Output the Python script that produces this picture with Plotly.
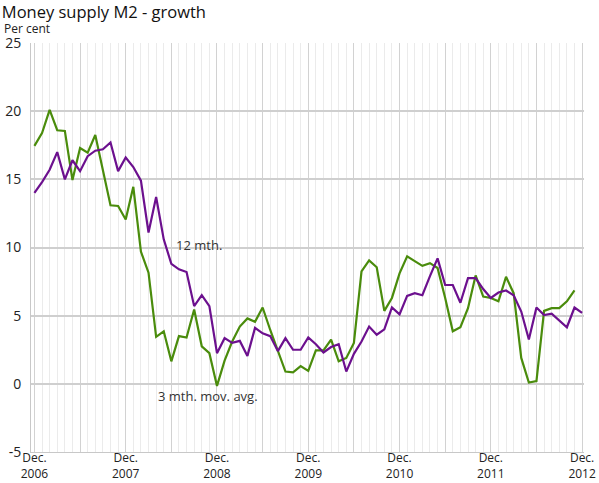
import plotly.graph_objects as go

# months since Dec. 2006
months_12 = list(range(73))
months_3 = list(range(72))

# 12-month growth, per cent
growth_12mth = [
    14.0, 14.8, 15.7, 17.0, 15.0, 16.4, 15.6, 16.7, 17.1, 17.2, 17.7, 15.6, 16.6,
    15.9, 14.9, 11.1, 13.7, 10.6, 8.8, 8.4, 8.2, 5.7, 6.5, 5.7, 2.25, 3.35,
    3.0, 3.15, 2.05, 4.1, 3.7, 3.5, 2.4, 3.35, 2.5, 2.5, 3.4, 2.9, 2.3,
    2.7, 2.9, 0.9, 2.2, 3.1, 4.2, 3.6, 4.0, 5.6, 5.1, 6.45, 6.65, 6.5,
    7.9, 9.2, 7.25, 7.25, 5.95, 7.75, 7.75, 6.95, 6.3, 6.7, 6.85, 6.5, 5.3,
    3.25, 5.6, 5.05, 5.15, 4.65, 4.15, 5.6, 5.2,
]

# 3-month moving average, annualised, per cent
growth_3mth = [
    17.45, 18.4, 20.1, 18.6, 18.55, 14.95, 17.3, 16.95, 18.25, 15.6, 13.1, 13.05,
    12.05, 14.45, 9.7, 8.15, 3.45, 3.85, 1.65, 3.5, 3.4, 5.45, 2.75, 2.25,
    -0.15, 1.7, 3.1, 4.2, 4.8, 4.55, 5.6, 3.95, 2.35, 0.9, 0.85, 1.3,
    0.95, 2.45, 2.45, 3.25, 1.65, 1.9, 3.0, 8.25, 9.05, 8.55, 5.35, 6.3,
    8.1, 9.35, 9.0, 8.65, 8.85, 8.5, 6.3, 3.85, 4.15, 5.55, 7.95, 6.4,
    6.3, 6.05, 7.85, 6.65, 1.9, 0.1, 0.2, 5.35, 5.55, 5.55, 6.05, 6.85,
]

tick_months = list(range(0, 73, 6))
tick_labels = ["Dec.<br>2006", "", "Dec.<br>2007", "", "Dec.<br>2008", "", "Dec.<br>2009",
               "", "Dec.<br>2010", "", "Dec.<br>2011", "", "Dec.<br>2012"]
y_ticks = [-5, 0, 5, 10, 15, 20, 25]
y_labels = ["-5", "0", "5", "10", "15", "20", "25"]

fig = go.Figure()

fig.add_trace(go.Scatter(
    x=months_3, y=growth_3mth, mode="lines", name="3 mth. mov. avg.",
    line=dict(color="#4a8c0c", width=2.2),
))
fig.add_trace(go.Scatter(
    x=months_12, y=growth_12mth, mode="lines", name="12 mth.",
    line=dict(color="#6c108e", width=2.2),
))

fig.add_annotation(x=21.6, y=10.2, text="12 mth.", showarrow=False,
                   xanchor="center", font=dict(size=13, color="#333333"))
fig.add_annotation(x=22.8, y=-0.9, text="3 mth. mov. avg.", showarrow=False,
                   xanchor="center", font=dict(size=13, color="#333333"))

fig.update_layout(
    width=599, height=483,
    margin=dict(l=31, r=15, t=43, b=31, autoexpand=False),
    plot_bgcolor="white", paper_bgcolor="white",
    showlegend=False,
    font=dict(family="Open Sans", size=13, color="#222222"),
    title=dict(text="Money supply M2 - growth", x=0.003, xanchor="left",
               y=0.986, yanchor="top", font=dict(size=16.5, color="#111111")),
)
fig.add_annotation(xref="paper", yref="paper", x=-0.052, y=1.035, xanchor="left",
                   yanchor="middle", text="Per cent", showarrow=False,
                   font=dict(size=12, color="#222222"))

fig.update_xaxes(
    range=[-0.45, 72.25], tickmode="array", tickvals=tick_months, ticktext=tick_labels,
    showgrid=True, gridcolor="#d2d2d2", gridwidth=1,
    minor=dict(tickmode="linear", tick0=0, dtick=1, showgrid=True,
               gridcolor="#ebebeb", gridwidth=1),
    showline=True, linecolor="#c8c8c8", zeroline=False, automargin=False,
    ticks="", tickfont=dict(size=12, color="#222222"), ticklabelstandoff=-5,
)
fig.update_yaxes(
    range=[-5, 25], tickmode="array", tickvals=y_ticks, ticktext=y_labels,
    showgrid=True, gridcolor="#cfcfcf", gridwidth=1.5,
    showline=True, linecolor="#c8c8c8", zeroline=False, automargin=False,
    ticks="", tickfont=dict(size=14, color="#222222"), ticklabelstandoff=6,
)

# drop the page's default body margin so the figure fills the window
fig.write_html("out.html", config={"displayModeBar": False},
               post_script="document.body.style.margin = '0';")
